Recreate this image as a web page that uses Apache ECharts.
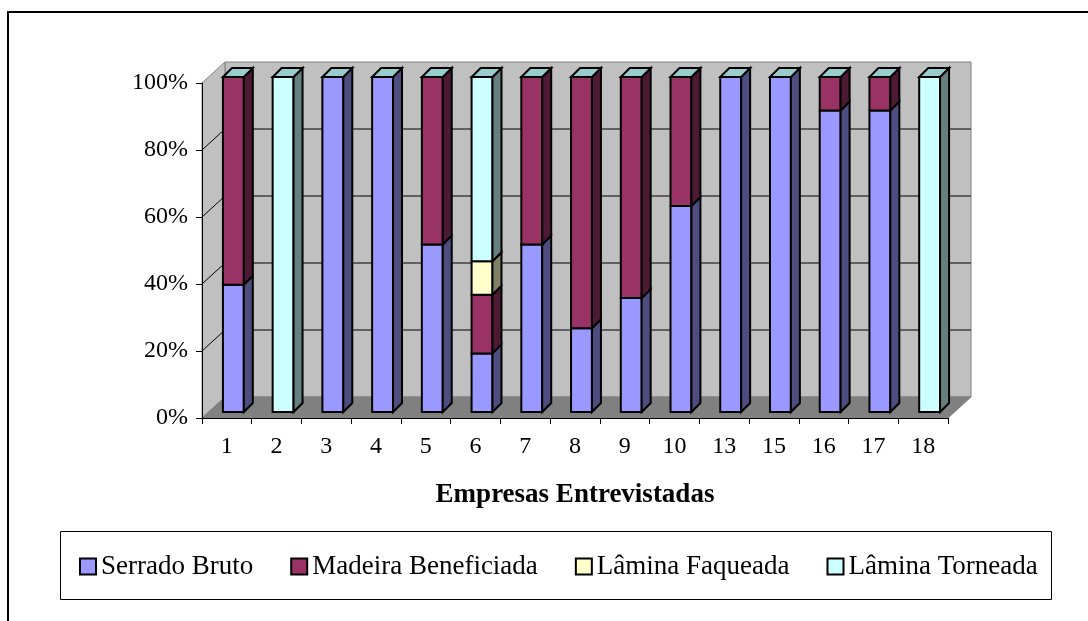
<!DOCTYPE html>
<html lang="pt">
<head>
    <meta charset="UTF-8">
    <title>Empresas Entrevistadas</title>
    <script src="https://cdn.jsdelivr.net/npm/echarts@6/dist/echarts.min.js"></script>
    <style>
        html, body { margin: 0; padding: 0; background: #fff; }
        #chart { width: 1088px; height: 621px; }
    </style>
</head>
<body>
    <div id="chart"></div>
    <script>
        var categories = ['1', '2', '3', '4', '5', '6', '7', '8', '9', '10', '13', '15', '16', '17', '18'];
        var serradoBruto       = [38, 0, 100, 100, 50, 17.5, 50, 25, 34, 61.5, 100, 100, 90, 90, 0];
        var madeiraBeneficiada = [62, 0, 0, 0, 50, 17.5, 50, 75, 66, 38.5, 0, 0, 10, 10, 0];
        var laminaFaqueada     = [0, 0, 0, 0, 0, 10, 0, 0, 0, 0, 0, 0, 0, 0, 0];
        var laminaTorneada     = [0, 100, 0, 0, 0, 55, 0, 0, 0, 0, 0, 0, 0, 0, 100];
        var seriesNames = ['Serrado Bruto', 'Madeira Beneficiada', 'Lâmina Faqueada', 'Lâmina Torneada'];

        var fonte = 'Liberation Serif';
        // frente, lado, topo
        var cores = [
            ['#9999ff', '#4d4d80', '#9999cc'],
            ['#993366', '#4d1a33', '#996680'],
            ['#ffffcc', '#808066', '#cccca3'],
            ['#ccffff', '#668080', '#99cccc']
        ];
        var wallDx = 23, wallDy = -21;   // profundidade do fundo
        var barDx = 6.5, barDy = -6;     // posição da barra na profundidade
        var sideDx = 9, sideDy = -9;     // espessura da barra

        var allValues = [serradoBruto, madeiraBeneficiada, laminaFaqueada, laminaTorneada];

        // monta [indice, inicio, fim, ehTopo] para cada pedaço empilhado
        var stacked = allValues.map(function () { return []; });
        categories.forEach(function (c, i) {
            var acc = 0;
            allValues.forEach(function (arr, k) {
                stacked[k].push([i, acc, acc + arr[i], k === allValues.length - 1 ? 1 : 0]);
                acc += arr[i];
            });
        });

        function makeBarRender(k) {
            return function (params, api) {
                var i = api.value(0), v0 = api.value(1), v1 = api.value(2), isTop = api.value(3);
                var band = api.size([1, 0])[0];
                var w = band * 0.42;
                var c = api.coord([i, 0]);
                var xl = c[0] - w / 2 + barDx, xr = xl + w;
                var yb = api.coord([i, v0])[1] + barDy;
                var yt = api.coord([i, v1])[1] + barDy;
                var line = { stroke: '#000', lineWidth: 2, lineJoin: 'miter' };
                var children = [];
                if (v1 - v0 > 0) {
                    children.push({
                        type: 'rect',
                        shape: { x: xl, y: yt, width: w, height: yb - yt },
                        style: Object.assign({ fill: cores[k][0] }, line)
                    });
                    children.push({
                        type: 'polygon',
                        shape: { points: [[xr, yb], [xr, yt], [xr + sideDx, yt + sideDy], [xr + sideDx, yb + sideDy]] },
                        style: Object.assign({ fill: cores[k][1] }, line)
                    });
                }
                if (isTop) {
                    children.push({
                        type: 'polygon',
                        shape: { points: [[xl, yt], [xr, yt], [xr + sideDx, yt + sideDy], [xl + sideDx, yt + sideDy]] },
                        style: Object.assign({ fill: cores[k][2] }, line)
                    });
                }
                return { type: 'group', children: children };
            };
        }

        function renderWalls(params, api) {
            var cs = params.coordSys;
            var x0 = cs.x, y0 = cs.y, x1 = cs.x + cs.width, yB = cs.y + cs.height;
            var children = [
                {
                    type: 'rect',
                    shape: { x: x0 + wallDx, y: y0 + wallDy, width: cs.width, height: cs.height },
                    style: { fill: '#c0c0c0', stroke: '#808080', lineWidth: 1 }
                },
                {
                    type: 'polygon',
                    shape: { points: [[x0, yB], [x0, y0], [x0 + wallDx, y0 + wallDy], [x0 + wallDx, yB + wallDy]] },
                    style: { fill: '#c0c0c0', stroke: '#808080', lineWidth: 1 }
                },
                {
                    type: 'polygon',
                    shape: { points: [[x0, yB], [x1, yB], [x1 + wallDx, yB + wallDy], [x0 + wallDx, yB + wallDy]] },
                    style: { fill: '#808080', stroke: '#808080', lineWidth: 1 }
                }
            ];
            [20, 40, 60, 80].forEach(function (v) {
                var y = api.coord([0, v])[1];
                children.push({
                    type: 'polyline',
                    shape: { points: [[x0, y], [x0 + wallDx, y + wallDy], [x1 + wallDx, y + wallDy]] },
                    style: { stroke: '#000', lineWidth: 1, fill: null }
                });
            });
            return { type: 'group', children: children };
        }

        var chart = echarts.init(document.getElementById('chart'));

        var series = [{
            name: 'fundo',
            type: 'custom',
            renderItem: renderWalls,
            data: [[0]],
            z: 1,
            silent: true
        }];
        seriesNames.forEach(function (name, k) {
            series.push({
                name: name,
                type: 'custom',
                renderItem: makeBarRender(k),
                data: stacked[k],
                itemStyle: { color: cores[k][0] },
                encode: { x: 0, y: [1, 2] },
                z: 2
            });
        });

        chart.setOption({
            animation: false,
            grid: { left: 202, top: 83, width: 746, height: 335 },
            graphic: [
                {
                    type: 'rect',
                    shape: { x: 8, y: 12, width: 1200, height: 800 },
                    style: { fill: null, stroke: '#000', lineWidth: 2 }
                },
                {
                    type: 'rect',
                    shape: { x: 60.5, y: 531.5, width: 991, height: 68 },
                    style: { fill: null, stroke: '#000', lineWidth: 1 }
                }
            ],
            legend: {
                data: seriesNames,
                left: 79,
                top: 553,
                padding: 0,
                icon: 'rect',
                itemWidth: 16,
                itemHeight: 16,
                itemGap: 37,
                itemStyle: { borderColor: '#000', borderWidth: 2 },
                textStyle: { fontFamily: fonte, fontSize: 27, color: '#000' }
            },
            xAxis: {
                type: 'category',
                data: categories,
                z: 3,
                name: 'Empresas Entrevistadas',
                nameLocation: 'middle',
                nameGap: 64,
                nameTextStyle: { fontFamily: fonte, fontSize: 27, fontWeight: 'bold', color: '#000' },
                axisLine: { lineStyle: { color: '#000', width: 1 } },
                axisTick: { show: true, length: 6, lineStyle: { color: '#000' } },
                axisLabel: { fontFamily: fonte, fontSize: 24, color: '#000', margin: 17 },
                splitLine: { show: false }
            },
            yAxis: {
                type: 'value',
                min: 0,
                max: 100,
                interval: 20,
                z: 3,
                axisLine: { show: true, lineStyle: { color: '#000', width: 1 } },
                axisTick: { show: true, length: 6, lineStyle: { color: '#000' } },
                axisLabel: { fontFamily: fonte, fontSize: 24, color: '#000', margin: 14, formatter: '{value}%' },
                splitLine: { show: false }
            },
            series: series
        });
    </script>
</body>
</html>
